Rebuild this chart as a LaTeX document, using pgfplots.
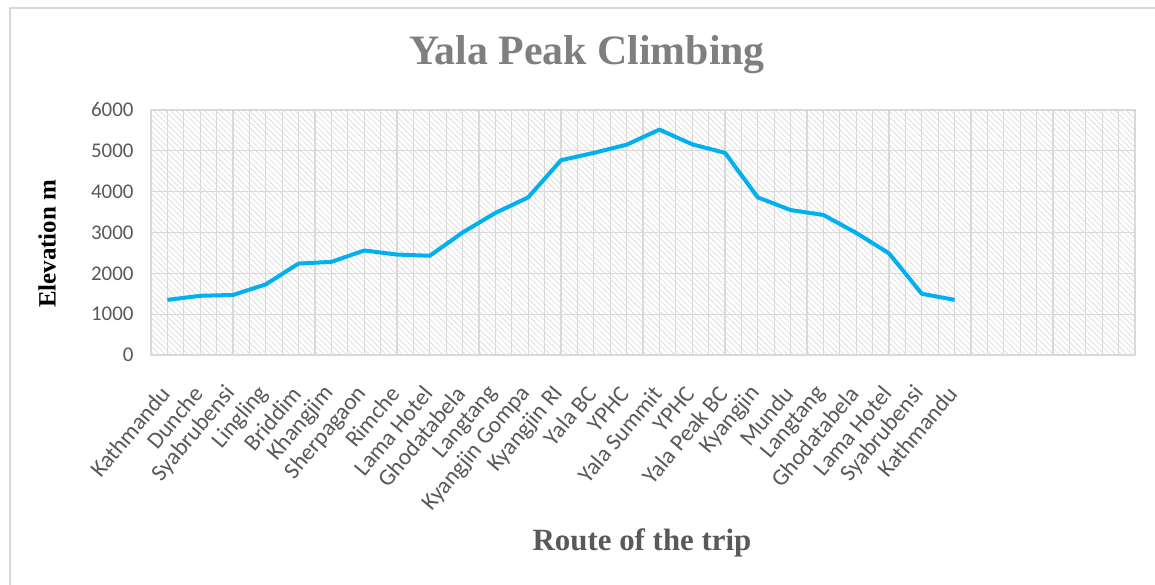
\documentclass[border=0pt]{standalone}
\usepackage{fontspec}
\setmainfont{Carlito}
\newfontfamily\tnr{Liberation Serif}
\usepackage{pgfplots}
\pgfplotsset{compat=1.18}
\usetikzlibrary{patterns.meta}
\definecolor{lineblue}{HTML}{00B0F0}
\definecolor{tickgray}{HTML}{595959}
\definecolor{gridgray}{HTML}{D9D9D9}
\definecolor{titlegray}{HTML}{7F7F7F}
\begin{document}
\begin{tikzpicture}
\useasboundingbox (0,0) rectangle (1155bp,585bp);
\fill[white] (0,0) rectangle (1155bp,585bp);
\draw[gridgray, line width=2bp] (10bp,-5bp) -- (10bp,577bp) -- (1165bp,577bp);
\begin{axis}[
  at={(151bp,230bp)}, anchor=south west,
  width=984bp, height=245bp, scale only axis,
  xmin=-0.5, xmax=29.5, ymin=0, ymax=6000,
  xtick={0,...,24},
  xticklabels={Kathmandu,Dunche,Syabrubensi,Lingling,Briddim,Khangjim,Sherpagaon,Rimche,Lama Hotel,Ghodatabela,Langtang,Kyangjin Gompa,Kyangjin RI,Yala BC,YPHC,Yala Summit,YPHC,Yala Peak BC,Kyangjin,Mundu,Langtang,Ghodatabela,Lama Hotel,Syabrubensi,Kathmandu},
  minor xtick={-0.5,0.5,...,29.5,25,26,27,28,29},
  ytick={0,1000,...,6000},
  grid=both,
  major grid style={gridgray, line width=1.2bp},
  minor grid style={gridgray, line width=1.2bp},
  axis background/.style={pattern={Lines[angle=-45,distance=4bp,line width=0.6bp]}, pattern color=gray!30},
  axis line style={gridgray, line width=1.2bp},
  major tick length=0pt, minor tick length=0pt,
  tick label style={font=\fontsize{21}{24}\selectfont, text=tickgray},
  xticklabel style={rotate=50, anchor=east, font=\fontsize{23.5}{26}\selectfont},
  xticklabel shift=32bp,
  yticklabel shift=14bp,
  /pgf/number format/assume math mode=true,
  scaled y ticks=false,
  yticklabel style={/pgf/number format/1000 sep={}},
  clip=false,
]
\addplot[lineblue, line width=4bp, line join=round] coordinates {
(0,1350) (1,1450) (2,1470) (3,1730) (4,2240) (5,2280) (6,2560) (7,2460) (8,2430) (9,3000)
(10,3480) (11,3860) (12,4770) (13,4950) (14,5150) (15,5520) (16,5160) (17,4950) (18,3860)
(19,3550) (20,3430) (21,2990) (22,2490) (23,1500) (24,1350)};
\end{axis}
\node[text=titlegray, font=\tnr\bfseries\fontsize{42}{48}\selectfont] at (587bp,530bp) {Yala Peak Climbing};
\node[text=black, rotate=90, font=\tnr\bfseries\fontsize{25}{30}\selectfont] at (47bp,341bp) {Elevation m};
\node[text=tickgray, font=\tnr\bfseries\fontsize{31}{36}\selectfont] at (642bp,42bp) {Route of the trip};
\end{tikzpicture}
\end{document}
